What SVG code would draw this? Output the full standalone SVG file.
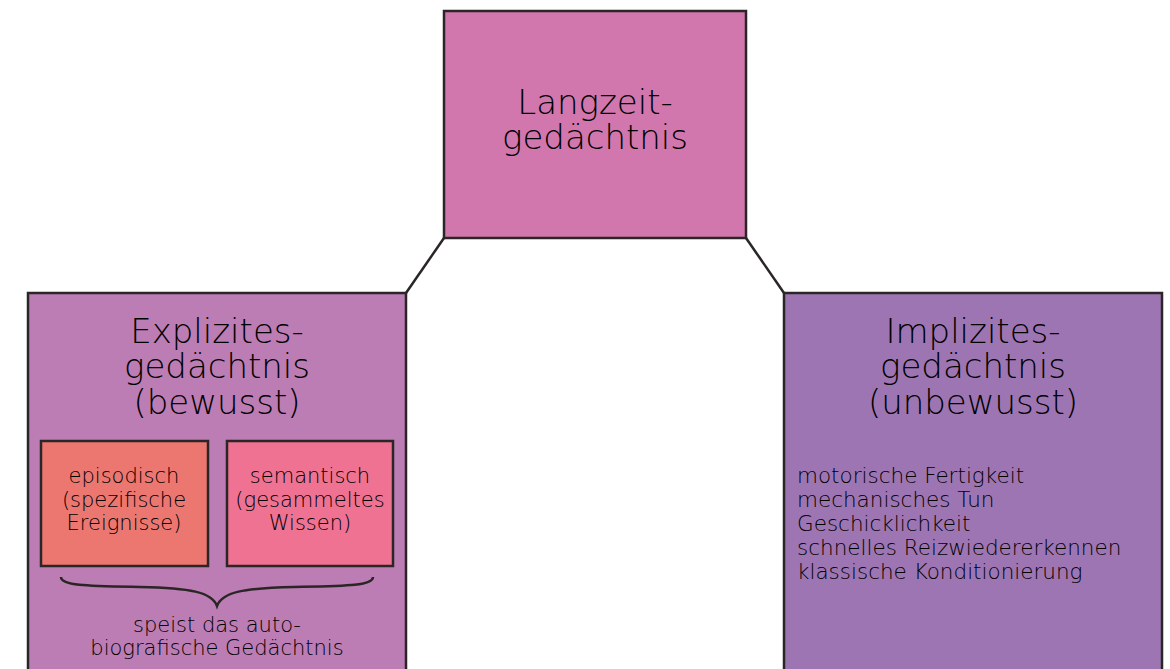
<svg xmlns="http://www.w3.org/2000/svg" width="1170" height="669" viewBox="0 0 1170 669">
<style>
.box{stroke:#2b2626;stroke-width:2.5}
.t{font-family:"DejaVu Sans","Liberation Sans",sans-serif;font-weight:300;fill:#000000}
.big{font-size:34px;text-anchor:middle}
.sm{font-size:21px;text-anchor:middle}
.ls{font-size:21.5px}
.conn{stroke:#2b2626;stroke-width:2.5;fill:none}
</style>
<rect width="1170" height="669" fill="#ffffff"/>
<g id="connectors">
<line class="conn" x1="444" y1="238" x2="406" y2="293"/>
<line class="conn" x1="746" y1="238" x2="784" y2="293"/>
</g>
<g id="langzeit">
<rect class="box" x="444" y="11" width="302" height="227" fill="#d177ae"/>
<text class="t big"><tspan x="595" y="114">Langzeit-</tspan><tspan x="595" y="149">gedächtnis</tspan></text>
</g>
<g id="explizit">
<rect class="box" x="28" y="293" width="378" height="390" fill="#bc7cb4"/>
<text class="t big"><tspan x="217" y="343">Explizites-</tspan><tspan x="217" y="378">gedächtnis</tspan><tspan x="217" y="414">(bewusst)</tspan></text>
<path d="M61,577 C61,586 90,586 140,587 C190,588 212,592 217,606 C222,592 244,588 294,587 C344,586 373,586 373,577" fill="none" stroke="#2b2626" stroke-width="2.5"/>
<text class="t sm"><tspan x="217" y="632">speist das auto-</tspan><tspan x="217" y="655">biografische Gedächtnis</tspan></text>
</g>
<g id="episodisch">
<rect class="box" x="41" y="441" width="167" height="125" fill="#ec7770"/>
<text class="t sm"><tspan x="124" y="483">episodisch</tspan><tspan x="124" y="507">(spezifische</tspan><tspan x="124" y="530">Ereignisse)</tspan></text>
</g>
<g id="semantisch">
<rect class="box" x="227" y="441" width="166" height="125" fill="#f07292"/>
<text class="t sm"><tspan x="310" y="483">semantisch</tspan><tspan x="310" y="507">(gesammeltes</tspan><tspan x="310" y="530">Wissen)</tspan></text>
</g>
<g id="implizit">
<rect class="box" x="784" y="293" width="378" height="390" fill="#9e75b3"/>
<text class="t big"><tspan x="973" y="343">Implizites-</tspan><tspan x="973" y="378">gedächtnis</tspan><tspan x="973" y="414">(unbewusst)</tspan></text>
<text class="t ls"><tspan x="797" y="483">motorische Fertigkeit</tspan><tspan x="797" y="507">mechanisches Tun</tspan><tspan x="797" y="531">Geschicklichkeit</tspan><tspan x="797" y="555">schnelles Reizwiedererkennen</tspan><tspan x="797" y="579">klassische Konditionierung</tspan></text>
</g>
</svg>
